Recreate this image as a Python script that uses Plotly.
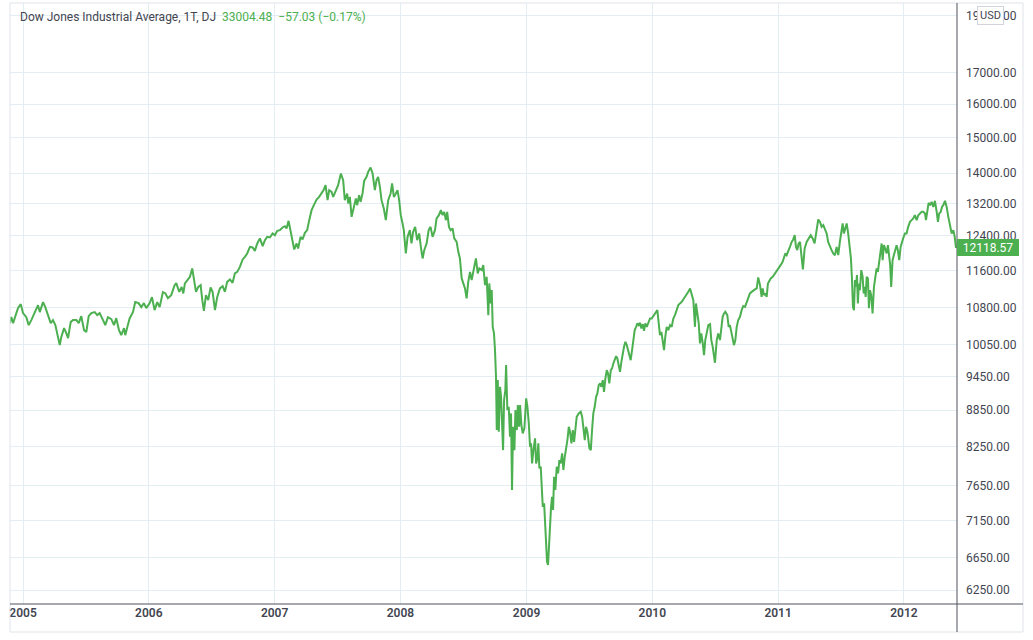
import numpy as np
import plotly.graph_objects as go
from datetime import datetime

# ---- data (time as decimal year, daily close of the DJIA) ----
time_dec = [
    2004.894, 2004.907, 2004.921, 2004.939, 2004.960, 2004.982, 2005.000, 2005.026, 2005.045, 2005.066,
    2005.093, 2005.119, 2005.133, 2005.159, 2005.177, 2005.199, 2005.220, 2005.238, 2005.257, 2005.278,
    2005.292, 2005.304, 2005.326, 2005.344, 2005.358, 2005.379, 2005.397, 2005.424, 2005.443, 2005.463,
    2005.485, 2005.503, 2005.522, 2005.543, 2005.570, 2005.590, 2005.609, 2005.636, 2005.654, 2005.675,
    2005.702, 2005.723, 2005.741, 2005.763, 2005.781, 2005.803, 2005.813, 2005.829, 2005.848, 2005.874,
    2005.892, 2005.919, 2005.940, 2005.961, 2005.980, 2006.007, 2006.025, 2006.046, 2006.067, 2006.086,
    2006.112, 2006.131, 2006.152, 2006.178, 2006.205, 2006.218, 2006.232, 2006.242, 2006.261, 2006.274,
    2006.287, 2006.305, 2006.327, 2006.345, 2006.359, 2006.375, 2006.393, 2006.412, 2006.425, 2006.438,
    2006.454, 2006.472, 2006.491, 2006.507, 2006.526, 2006.544, 2006.565, 2006.587, 2006.605, 2006.623,
    2006.645, 2006.666, 2006.684, 2006.703, 2006.724, 2006.746, 2006.764, 2006.782, 2006.804, 2006.825,
    2006.843, 2006.862, 2006.883, 2006.905, 2006.923, 2006.941, 2006.963, 2006.984, 2007.002, 2007.021,
    2007.042, 2007.063, 2007.082, 2007.095, 2007.111, 2007.127, 2007.143, 2007.156, 2007.175, 2007.187,
    2007.206, 2007.222, 2007.241, 2007.259, 2007.275, 2007.294, 2007.312, 2007.334, 2007.354, 2007.373,
    2007.392, 2007.405, 2007.421, 2007.434, 2007.453, 2007.466, 2007.487, 2007.505, 2007.527, 2007.545,
    2007.558, 2007.577, 2007.585, 2007.598, 2007.612, 2007.630, 2007.646, 2007.656, 2007.672, 2007.683,
    2007.699, 2007.712, 2007.731, 2007.744, 2007.763, 2007.779, 2007.797, 2007.810, 2007.823, 2007.837,
    2007.850, 2007.868, 2007.884, 2007.903, 2007.922, 2007.934, 2007.948, 2007.964, 2007.977, 2007.990,
    2008.003, 2008.017, 2008.027, 2008.043, 2008.057, 2008.075, 2008.088, 2008.101, 2008.117, 2008.133,
    2008.149, 2008.162, 2008.176, 2008.189, 2008.208, 2008.224, 2008.239, 2008.255, 2008.274, 2008.287,
    2008.305, 2008.321, 2008.335, 2008.347, 2008.361, 2008.371, 2008.385, 2008.398, 2008.414, 2008.427,
    2008.446, 2008.459, 2008.472, 2008.486, 2008.498, 2008.512, 2008.525, 2008.538, 2008.552, 2008.565,
    2008.583, 2008.599, 2008.613, 2008.626, 2008.645, 2008.657, 2008.671, 2008.684, 2008.697, 2008.705,
    2008.716, 2008.724, 2008.732, 2008.742, 2008.750, 2008.758, 2008.764, 2008.772, 2008.780, 2008.790,
    2008.798, 2008.806, 2008.814, 2008.822, 2008.832, 2008.838, 2008.848, 2008.859, 2008.869, 2008.877,
    2008.885, 2008.893, 2008.904, 2008.912, 2008.923, 2008.931, 2008.941, 2008.949, 2008.959, 2008.970,
    2008.983, 2008.997, 2009.007, 2009.018, 2009.028, 2009.036, 2009.044, 2009.055, 2009.068, 2009.076,
    2009.086, 2009.094, 2009.102, 2009.113, 2009.121, 2009.129, 2009.140, 2009.148, 2009.155, 2009.163,
    2009.171, 2009.179, 2009.187, 2009.195, 2009.203, 2009.211, 2009.219, 2009.229, 2009.240, 2009.251,
    2009.261, 2009.272, 2009.283, 2009.293, 2009.304, 2009.314, 2009.325, 2009.336, 2009.346, 2009.357,
    2009.368, 2009.378, 2009.388, 2009.399, 2009.415, 2009.431, 2009.442, 2009.452, 2009.463, 2009.473,
    2009.484, 2009.500, 2009.511, 2009.521, 2009.531, 2009.542, 2009.553, 2009.563, 2009.574, 2009.585,
    2009.595, 2009.606, 2009.616, 2009.627, 2009.638, 2009.648, 2009.658, 2009.670, 2009.680, 2009.690,
    2009.701, 2009.712, 2009.722, 2009.733, 2009.743, 2009.754, 2009.765, 2009.775, 2009.786, 2009.797,
    2009.807, 2009.817, 2009.828, 2009.839, 2009.849, 2009.860, 2009.871, 2009.881, 2009.892, 2009.902,
    2009.913, 2009.924, 2009.934, 2009.944, 2009.956, 2009.968, 2009.982, 2009.995, 2010.014, 2010.029,
    2010.040, 2010.051, 2010.061, 2010.072, 2010.083, 2010.093, 2010.103, 2010.114, 2010.127, 2010.141,
    2010.154, 2010.167, 2010.180, 2010.194, 2010.207, 2010.220, 2010.234, 2010.246, 2010.260, 2010.273,
    2010.286, 2010.300, 2010.313, 2010.326, 2010.339, 2010.347, 2010.358, 2010.369, 2010.379, 2010.389,
    2010.401, 2010.411, 2010.421, 2010.432, 2010.445, 2010.459, 2010.469, 2010.480, 2010.490, 2010.498,
    2010.512, 2010.524, 2010.538, 2010.548, 2010.559, 2010.570, 2010.580, 2010.596, 2010.607, 2010.617,
    2010.628, 2010.639, 2010.649, 2010.660, 2010.671, 2010.683, 2010.697, 2010.710, 2010.723, 2010.737,
    2010.750, 2010.763, 2010.776, 2010.790, 2010.803, 2010.816, 2010.830, 2010.842, 2010.856, 2010.869,
    2010.877, 2010.888, 2010.898, 2010.909, 2010.919, 2010.930, 2010.941, 2010.957, 2010.973, 2010.989,
    2011.004, 2011.020, 2011.036, 2011.047, 2011.057, 2011.068, 2011.081, 2011.094, 2011.108, 2011.120,
    2011.132, 2011.142, 2011.152, 2011.163, 2011.174, 2011.187, 2011.197, 2011.211, 2011.227, 2011.243,
    2011.259, 2011.275, 2011.290, 2011.306, 2011.319, 2011.333, 2011.346, 2011.359, 2011.372, 2011.386,
    2011.398, 2011.412, 2011.425, 2011.438, 2011.452, 2011.465, 2011.478, 2011.491, 2011.505, 2011.513,
    2011.523, 2011.534, 2011.545, 2011.557, 2011.571, 2011.579, 2011.587, 2011.595, 2011.603, 2011.611,
    2011.619, 2011.627, 2011.634, 2011.642, 2011.650, 2011.661, 2011.672, 2011.680, 2011.688, 2011.696,
    2011.704, 2011.714, 2011.722, 2011.730, 2011.740, 2011.751, 2011.762, 2011.772, 2011.783, 2011.793,
    2011.804, 2011.815, 2011.823, 2011.831, 2011.841, 2011.851, 2011.863, 2011.873, 2011.883, 2011.891,
    2011.899, 2011.910, 2011.920, 2011.931, 2011.942, 2011.952, 2011.963, 2011.974, 2011.984, 2011.994,
    2012.008, 2012.021, 2012.034, 2012.048, 2012.061, 2012.074, 2012.087, 2012.101, 2012.114, 2012.127,
    2012.141, 2012.153, 2012.167, 2012.175, 2012.185, 2012.196, 2012.207, 2012.220, 2012.233, 2012.246,
    2012.260, 2012.270, 2012.280, 2012.292, 2012.302, 2012.312, 2012.326, 2012.339, 2012.352, 2012.365,
    2012.379, 2012.392, 2012.403, 2012.413,
]

close = [
    10475, 10597, 10475, 10638, 10783, 10867, 10679, 10597, 10434, 10536,
    10700, 10846, 10700, 10909, 10804, 10638, 10475, 10536, 10434, 10195,
    10038, 10195, 10374, 10274, 10175, 10495, 10536, 10536, 10475, 10617,
    10334, 10294, 10617, 10679, 10700, 10638, 10679, 10536, 10434, 10597,
    10556, 10434, 10576, 10334, 10234, 10374, 10234, 10394, 10576, 10700,
    10909, 10888, 10804, 10888, 10783, 10888, 11015, 10741, 10909, 10804,
    11122, 11100, 10994, 11058, 11274, 11317, 11208, 11128, 11236, 11094,
    11311, 11383, 11456, 11644, 11421, 11128, 11236, 11274, 10951, 10727,
    11058, 10951, 11224, 11128, 10741, 11021, 11202, 11252, 11128, 11345,
    11399, 11324, 11532, 11567, 11680, 11848, 11908, 11987, 12140, 12126,
    12047, 12221, 12340, 12157, 12299, 12378, 12363, 12459, 12418, 12522,
    12539, 12605, 12636, 12580, 12767, 12539, 12299, 12080, 12221, 12103,
    12378, 12316, 12474, 12539, 12784, 13034, 13160, 13306, 13373, 13477,
    13566, 13679, 13288, 13548, 13503, 13373, 13548, 13679, 13992, 13812,
    13288, 13461, 13204, 13373, 12866, 13160, 13332, 13160, 13417, 13244,
    13461, 13793, 13901, 14036, 14156, 13992, 13548, 13812, 13901, 13634,
    13288, 13076, 12784, 13288, 13461, 13724, 13373, 13461, 13548, 13288,
    12908, 12703, 12539, 11987, 12378, 12539, 12221, 12498, 12620, 12299,
    12459, 12140, 11871, 12063, 12221, 12539, 12620, 12378, 12539, 12826,
    12908, 13034, 12908, 12991, 12784, 12991, 12620, 12539, 12580, 12340,
    12258, 12024, 11871, 11421, 11311, 11202, 10987, 11345, 11567, 11383,
    11644, 11871, 11532, 11644, 11605, 11718, 11274, 11456, 10638, 11311,
    10882, 11165, 10400, 10268, 9942, 9441, 8517, 9381, 8488, 9261,
    9083, 8628, 8193, 9025, 9202, 9658, 8853, 8909, 8407, 8796,
    7584, 8571, 8193, 8853, 8517, 8939, 8571, 8939, 8599, 8462,
    8545, 9055, 8909, 8628, 8246, 8300, 7985, 8193, 8381, 7985,
    8063, 8300, 7909, 7933, 7584, 7342, 7391, 7110, 6885, 6601,
    6560, 6885, 7249, 7342, 7486, 7296, 7781, 7584, 7933, 7832,
    8037, 7985, 8141, 7883, 8088, 8193, 8353, 8571, 8488, 8300,
    8517, 8326, 8488, 8739, 8796, 8823, 8739, 8517, 8353, 8571,
    8488, 8220, 8193, 8517, 8796, 8909, 9083, 9143, 9291, 9322,
    9261, 9381, 9171, 9412, 9565, 9504, 9322, 9565, 9596, 9689,
    9783, 9827, 9783, 9658, 9533, 9719, 9909, 10005, 10102, 10038,
    9942, 9846, 9751, 9942, 10169, 10334, 10400, 10469, 10434, 10481,
    10368, 10454, 10320, 10469, 10400, 10501, 10570, 10570, 10638, 10706,
    10741, 10469, 10234, 10300, 10102, 9942, 10201, 10400, 10334, 10434,
    10400, 10570, 10638, 10741, 10846, 10882, 10915, 10966, 11021, 11058,
    11128, 11202, 11058, 10951, 10400, 10882, 10673, 10469, 10071, 10268,
    10071, 9846, 10136, 10268, 10434, 10454, 10136, 10005, 9814, 9701,
    10136, 10268, 10136, 10368, 10603, 10673, 10706, 10638, 10400, 10434,
    10268, 10136, 10038, 10136, 10400, 10536, 10603, 10741, 10825, 10810,
    10915, 11021, 11094, 11128, 11165, 11180, 11202, 11443, 11274, 11021,
    11202, 11058, 11094, 11021, 11311, 11383, 11421, 11456, 11516, 11590,
    11644, 11718, 11793, 11871, 11987, 11947, 12024, 12140, 12258, 12316,
    12418, 12140, 12063, 12221, 12258, 11908, 11621, 12103, 12258, 12340,
    12418, 12340, 12221, 12539, 12801, 12742, 12620, 12661, 12539, 12459,
    12258, 12140, 12063, 11987, 11947, 12140, 11947, 12258, 12620, 12703,
    12459, 12620, 12703, 12459, 12140, 11871, 11421, 10810, 10741, 11383,
    11236, 11494, 10882, 11311, 11165, 11605, 11456, 11094, 11236, 11021,
    11456, 11421, 10783, 11165, 11058, 10673, 11236, 11421, 11644, 11567,
    11793, 12140, 12221, 11832, 12180, 12103, 11987, 12180, 11832, 11718,
    11236, 11832, 11947, 12103, 12180, 12063, 11832, 12140, 12258, 12340,
    12459, 12459, 12620, 12742, 12784, 12826, 12908, 12784, 12908, 12951,
    12991, 12991, 12951, 12784, 13034, 13219, 13160, 13244, 13117, 13270,
    12991, 12742, 12951, 12991, 13117, 13160, 13270, 13117, 12866, 12661,
    12459, 12539, 12378, 12118.57,
]

price_ticks = [6250, 6650, 7150, 7650, 8250, 8850, 9450, 10050, 10800, 11600,
               12400, 13200, 14000, 15000, 16000, 17000, 19000]
price_tick_labels = [f"{v:.2f}" for v in price_ticks]

title_text = "Dow Jones Industrial Average, 1T, DJ"
quote_text = "33004.48"
change_text = "\u221257.03 (\u22120.17%)"
currency_text = "USD"
last_price = close[-1]

GREEN = "#4caf50"
TEXT = "#434651"
GRID = "#e3edf4"
BORDER = "#e0e3eb"
AXIS = "#50535e"
FONT = "Roboto, Open Sans, sans-serif"


def dec_to_dt(t):
    y = int(np.floor(t))
    start, end = datetime(y, 1, 1), datetime(y + 1, 1, 1)
    return start + (end - start) * (t - y)


dates = [dec_to_dt(t) for t in time_dec]

fig = go.Figure()
fig.add_trace(go.Scatter(
    x=dates, y=close, mode="lines",
    line=dict(color=GREEN, width=2),
    hoverinfo="skip",
))

fig.update_layout(
    width=1033, height=640,
    margin=dict(l=10, r=76, t=3, b=36),
    paper_bgcolor="white", plot_bgcolor="white",
    showlegend=False,
    font=dict(family=FONT, size=12, color=TEXT),
    xaxis=dict(
        type="date",
        range=[dec_to_dt(2004.8967), dec_to_dt(2012.4210)],
        tick0="2005-01-01", dtick="M12", tickformat="%Y",
        showgrid=True, gridcolor=GRID, gridwidth=1,
        zeroline=False, showline=False, ticks="",
        tickfont=dict(family=FONT, size=12, color=TEXT, weight=600),
        fixedrange=True,
    ),
    yaxis=dict(
        type="log", side="right",
        range=[3.784115, 4.28916],
        tickvals=price_ticks, ticktext=price_tick_labels,
        showgrid=True, gridcolor=GRID, gridwidth=1,
        zeroline=False, showline=False, ticks="",
        ticklabelstandoff=8,
        tickfont=dict(family=FONT, size=12, color=TEXT),
        fixedrange=True,
    ),
)

x_right = (1023 - 10) / 947.0
y_bottom = -(632 - 604) / 601.0

fig.add_shape(type="rect", xref="paper", yref="paper",
              x0=0, x1=x_right, y0=y_bottom, y1=1,
              line=dict(color=BORDER, width=1), layer="above")
fig.add_shape(type="line", xref="paper", yref="paper",
              x0=1, x1=1, y0=y_bottom, y1=1,
              line=dict(color=AXIS, width=1), layer="above")
fig.add_shape(type="line", xref="paper", yref="paper",
              x0=0, x1=x_right, y0=0, y1=0,
              line=dict(color=AXIS, width=1), layer="above")

fig.add_annotation(
    xref="paper", yref="paper", x=(18 - 10) / 947.0, y=(604 - 17) / 601.0,
    xanchor="left", yanchor="middle", showarrow=False,
    text=(f"{title_text}&nbsp;&nbsp;<span style='color:{GREEN}'>{quote_text}</span>"
          f"&nbsp;&nbsp;<span style='color:{GREEN}'>{change_text}</span>"),
    font=dict(family=FONT, size=12, color=TEXT),
)

fig.add_annotation(
    xref="paper", yref="y", x=1.0, y=np.log10(last_price),
    xanchor="left", yanchor="middle", showarrow=False,
    text=f"{last_price:.2f}", width=58, height=13, align="center",
    bgcolor=GREEN, bordercolor=GREEN, borderwidth=1, borderpad=1,
    font=dict(family=FONT, size=12, color="white"),
)

fig.add_annotation(
    xref="paper", yref="paper", x=(990 - 10) / 947.0, y=(604 - 16) / 601.0,
    xanchor="center", yanchor="middle", showarrow=False,
    text=currency_text,
    bgcolor="white", bordercolor="#d1d4dc", borderwidth=1, borderpad=2,
    font=dict(family=FONT, size=11, color=TEXT),
)

fig.write_html("out.html", config={"displayModeBar": False},
               post_script="document.body.style.margin='0px';")
